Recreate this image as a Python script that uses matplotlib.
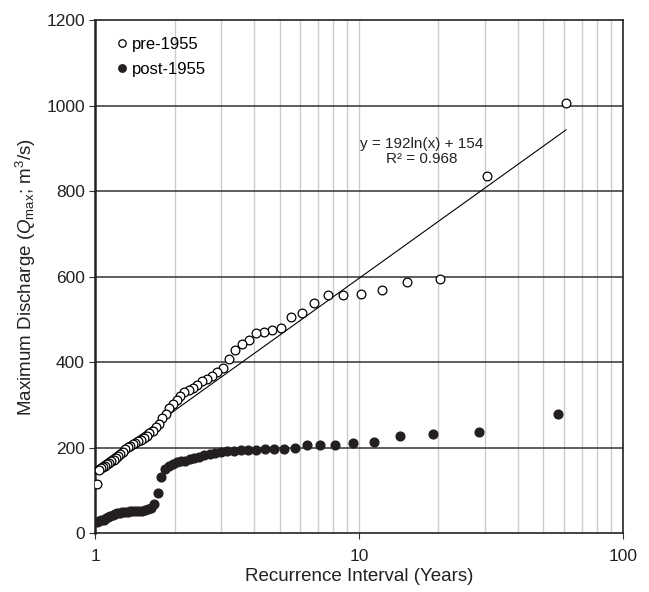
import numpy as np
import matplotlib
matplotlib.use("Agg")
import matplotlib.pyplot as plt

plt.rcParams['font.family'] = ['Liberation Sans', 'DejaVu Sans']
plt.rcParams['mathtext.fontset'] = 'custom'
plt.rcParams['mathtext.rm'] = 'Liberation Sans'
plt.rcParams['mathtext.it'] = 'Liberation Sans:italic'

# Datos (ordenados de mayor a menor)
pre_1955 = [1005, 835, 595, 587, 568, 560, 557, 557, 538, 515,
            505, 481, 475, 470, 469, 453, 442, 428, 407, 386,
            376, 368, 361, 356, 347, 340, 336, 331, 322, 312,
            302, 292, 280, 269, 255, 249, 240, 234, 228, 222,
            218, 215, 212, 208, 205, 202, 196, 190, 185, 180,
            176, 172, 168, 165, 162, 158, 155, 152, 148, 115]
post_1955 = [279, 236, 231, 227, 213, 211, 207, 206, 206, 199,
             197, 196, 196, 195, 195, 194, 193, 192, 190, 188,
             185, 182, 178, 176, 174, 170, 168, 166, 163, 158,
             150, 132, 93, 68, 58, 56, 54, 53, 53, 52,
             52, 51, 50, 50, 49, 48, 47, 45, 43, 40,
             38, 35, 32, 30, 28, 27]

# Intervalo de recurrencia (n+1)/m
n_pre = len(pre_1955)
n_post = len(post_1955)
ri_pre = (n_pre + 1) / np.arange(1, n_pre + 1)
ri_post = (n_post + 1) / np.arange(1, n_post + 1)

# Ajuste logaritmico
a, b = 192, 154
x_fit = np.linspace(1, ri_pre.max(), 200)
y_fit = a * np.log(x_fit) + b

fig = plt.figure(figsize=(6.49, 5.92), dpi=100)
ax = fig.add_axes([0.1468, 0.0992, 0.8127, 0.867])

ax.plot(x_fit, y_fit, color='black', lw=0.8, zorder=2)
ax.plot(ri_pre, pre_1955, 'o', mfc='white', mec='black', mew=0.9, ms=6.3,
        label='pre-1955', zorder=3)
ax.plot(ri_post, post_1955, 'o', mfc='#231f20', mec='#231f20', ms=6.3,
        label='post-1955', zorder=3)

ax.set_xscale('log')
ax.set_xlim(1, 100)
ax.set_ylim(0, 1200)
ax.set_yticks(np.arange(0, 1201, 200))
ax.set_xticks([1, 10, 100])
ax.set_xticklabels(['1', '10', '100'])
ax.minorticks_off()
ax.tick_params(axis='both', labelsize=12.5, direction='out', length=4,
               color='#333333', labelcolor='#222222')
ax.tick_params(axis='x', pad=7)

# rejilla
for xv in list(range(2, 10)) + list(range(10, 100, 10)):
    ax.axvline(xv, color='#cccccc', lw=1, zorder=0)
for yv in range(200, 1200, 200):
    ax.axhline(yv, color='#333333', lw=1.1, zorder=1)

for s in ax.spines.values():
    s.set_color('#222222')
    s.set_linewidth(1.2)
ax.spines['left'].set_linewidth(1.8)

ax.set_xlabel('Recurrence Interval (Years)', fontsize=13.5, labelpad=3, color='#222222')
ax.set_ylabel(r'Maximum Discharge ($Q_{\mathrm{max}}$; m$^3$/s)', fontsize=13.5,
              labelpad=6, color='#222222')

ax.text(17.3, 893, 'y = 192ln(x) + 154\nR² = 0.968', ha='center', va='center',
        fontsize=11, linespacing=1.1, color='#222222')

leg = ax.legend(loc='upper left', frameon=False, fontsize=12, markerscale=0.85,
                handletextpad=0.0, borderaxespad=0.6, handlelength=1.2,
                labelspacing=0.6)

fig.savefig('out.png', dpi=100)
